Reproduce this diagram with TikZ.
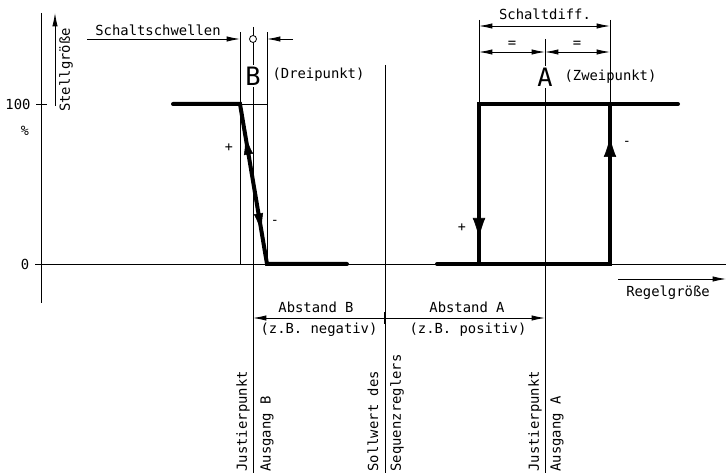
\documentclass[tikz,border=0pt]{standalone}
\usepackage{fontspec}
\setmainfont{DejaVu Sans Mono}
\usetikzlibrary{positioning, calc, arrows.meta}

\tikzset{
  thinline/.style={line width=0.6pt},
  curve/.style={line width=3pt, line cap=round},
  dimtip/.style={-{Latex[length=10pt,width=4pt]}},
  dimboth/.style={{Latex[length=10pt,width=4pt]}-{Latex[length=10pt,width=4pt]}},
  flowtip/.style={line cap=butt, -{Latex[length=15pt,width=9.5pt]}},
  slopetip/.style={line cap=butt, -{Latex[length=14pt,width=7pt]}},
  lbl/.style={font=\fontsize{10.4}{12}\selectfont, inner sep=1pt},
  sign/.style={font=\fontsize{10}{11}\selectfont, inner sep=0pt},
  big/.style={font=\fontsize{19}{20}\selectfont, inner sep=1pt, fill=white},
  vlbl/.style={lbl, rotate=90, anchor=west}
}

\begin{document}
\begin{tikzpicture}[x=0.75pt, y=-0.75pt]
  \useasboundingbox (0,0) rectangle (726,473);

  % axes
  \coordinate (ytop) at (41,13);
  \coordinate (ybot) at (41,303);
  \coordinate (zl) at (35,264);
  \coordinate (zr) at (726,264);
  \draw[thinline] (ytop) -- (ybot);
  \draw[thinline] (zl) -- (zr);
  \draw[thinline] (36,104) -- (47,104);
  \node[lbl] (hundert) at (18,104) {100};
  \node[sign] (proz) at (25,131) {\%};
  \node[lbl] (null) at (25,264) {0};

  \coordinate (sg1) at (55,106);
  \coordinate (sg2) at (55,13);
  \draw[thinline, dimtip] (sg1) -- (sg2);
  \node[lbl, rotate=90] (stell) at (66,70) {Stellgröße};

  \coordinate (rg1) at (618,279);
  \coordinate (rg2) at (726,279);
  \draw[thinline, dimtip] (rg1) -- (rg2);
  \node[lbl] (regel) at (668,293) {Regelgröße};

  % Ausgang B (Dreipunkt)
  \coordinate (b0) at (173,104);
  \coordinate (b1) at (240,104);
  \coordinate (b2) at (267,264);
  \coordinate (b3) at (347,264);
  \draw[thinline] (240,32) -- (240,264) -- (267,264) -- (267,32);
  \draw[thinline] (b1) -- (267,104);
  \draw[thinline] (253,27) -- (253,473);
  \draw[curve] (b0) -- (b1) -- (b2) -- (b3);
  \draw[slopetip] ($(b1)!0.42!(b2)$) -- ($(b1)!0.20!(b2)$);
  \draw[slopetip] ($(b1)!0.58!(b2)$) -- ($(b1)!0.80!(b2)$);
  \node[sign] (bplus) at (229,148) {+};
  \node[sign] (bminus) at (275,222) {-};

  \coordinate (ss1) at (87,39);
  \coordinate (ss2) at (240,39);
  \coordinate (ss3) at (293,39);
  \coordinate (ss4) at (267,39);
  \draw[thinline, dimtip] (ss1) -- (ss2);
  \draw[thinline, dimtip] (ss3) -- (ss4);
  \draw[thinline, fill=white] (253,39) circle (3.5);
  \node[lbl] (schwellen) at (158,30) {Schaltschwellen};
  \node[big] (B) at (253,76) {B};
  \node[lbl, anchor=west] (drei) at (271,75) {(Dreipunkt)};

  % Ausgang A (Zweipunkt)
  \coordinate (a0) at (437,264);
  \coordinate (a1) at (479,264);
  \coordinate (a2) at (479,104);
  \coordinate (a3) at (678,104);
  \coordinate (a4) at (610,264);
  \coordinate (a5) at (610,104);
  \draw[thinline] (479,20) -- (a2);
  \draw[thinline] (610,20) -- (a5);
  \draw[thinline] (545,39) -- (545,473);
  \draw[curve] (a0) -- (a1) -- (a2) -- (a3);
  \draw[curve] (a1) -- (a4) -- (a5);
  \draw[flowtip] (479,200) -- (479,238);
  \draw[flowtip] (610,175) -- (610,137);
  \node[sign] (aplus) at (462,228) {+};
  \node[sign] (aminus) at (627,143) {-};

  \draw[thinline, dimboth] (479,26) -- (610,26);
  \draw[thinline, dimboth] (479,52) -- (545,52);
  \draw[thinline, dimboth] (545,52) -- (610,52);
  \node[lbl] (diff) at (545,14) {Schaltdiff.};
  \node[lbl] (gl1) at (512,44) {=};
  \node[lbl] (gl2) at (577,44) {=};
  \node[big] (A) at (545,77) {A};
  \node[lbl, anchor=west] (zwei) at (563,77) {(Zweipunkt)};

  % Sollwert und Abstand
  \coordinate (sw) at (385,318);
  \draw[thinline] (385,65) -- (385,473);
  \draw[thinline, dimtip] (sw) -- (253,318);
  \draw[thinline, dimtip] (sw) -- (545,318);
  \draw[line width=2pt] (385,312) -- (385,324);
  \node[lbl] (abB) at (316,307) {Abstand B};
  \node[lbl] (negB) at (319,330) {(z.B. negativ)};
  \node[lbl] (abA) at (467,307) {Abstand A};
  \node[lbl] (posA) at (468,330) {(z.B. positiv)};

  \node[vlbl] (justB) at (243,473) {Justierpunkt};
  \node[vlbl] (ausB) at (267,473) {Ausgang B};
  \node[vlbl] (soll) at (373,473) {Sollwert des};
  \node[vlbl] (seq) at (397,473) {Sequenzreglers};
  \node[vlbl] (justA) at (535,473) {Justierpunkt};
  \node[vlbl] (ausA) at (557,473) {Ausgang A};
\end{tikzpicture}
\end{document}
